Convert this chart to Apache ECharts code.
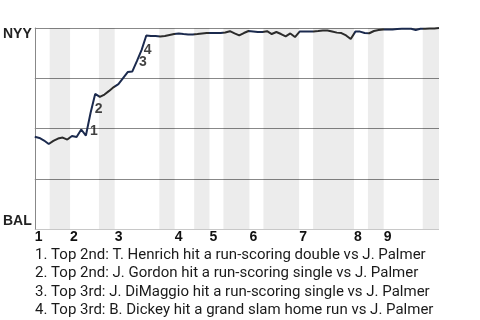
<!DOCTYPE html>
<html>
<head>
<meta charset="utf-8">
<script src="https://cdn.jsdelivr.net/npm/echarts@6/dist/echarts.min.js"></script>
<style>html,body{margin:0;padding:0;background:#fff}#c{width:480px;height:320px}</style>
</head>
<body>
<div id="c"></div>
<script>
// Win probability for NYY (0 = BAL wins, 1 = NYY wins), one value per plate appearance index
const winProb = [
  0.459, 0.453, 0.440, 0.423, 0.438, 0.450, 0.455, 0.445, 0.463, 0.458,
  0.495, 0.465, 0.577, 0.672, 0.657, 0.669, 0.687, 0.706, 0.721, 0.751,
  0.781, 0.784, 0.836, 0.891, 0.963, 0.960, 0.960, 0.958, 0.960, 0.965,
  0.970, 0.973, 0.970, 0.968, 0.968, 0.970, 0.973, 0.975, 0.975, 0.975,
  0.975, 0.978, 0.984, 0.973, 0.963, 0.975, 0.985, 0.983, 0.980, 0.980,
  0.984, 0.970, 0.980, 0.970, 0.958, 0.973, 0.955, 0.982, 0.982, 0.982,
  0.983, 0.985, 0.988, 0.988, 0.983, 0.977, 0.975, 0.963, 0.945, 0.982,
  0.982, 0.975, 0.974, 0.985, 0.990, 0.993, 0.993, 0.993, 0.995, 0.996,
  0.996, 0.996, 0.990, 0.996, 0.996, 0.997, 0.998, 1.000
];
// bottom halves of innings (BAL batting), in plate-appearance units
const bottomHalves = [
  [3.2, 7.6], [13.8, 17.2], [26.8, 30.1], [34.3, 37.6], [40.6, 46.2],
  [49.2, 56.9], [59.9, 68.7], [71.7, 75.1], [83.5, 87]
];
const inningStarts = [0, 7.6, 17.2, 30.1, 37.6, 46.2, 56.9, 68.7, 75.1];
const inningLabels = ['1', '2', '3', '4', '5', '6', '7', '8', '9'];
const teamTop = 'NYY';
const teamBottom = 'BAL';
const eventIndex = [11, 12, 22, 23];
const eventLabels = ['1', '2', '3', '4'];
const eventNotes = [
  '1. Top 2nd: T. Henrich hit a run-scoring double vs J. Palmer',
  '2. Top 2nd: J. Gordon hit a run-scoring single vs J. Palmer',
  '3. Top 3rd: J. DiMaggio hit a run-scoring single vs J. Palmer',
  '4. Top 3rd: B. Dickey hit a grand slam home run vs J. Palmer'
];

const NAVY = '#1b2a4e';
const DARK = '#2b2b2b';
const labelOffsets = [[8, -4], [8, -4], [6, 1], [6, 0]];

const lineData = winProb.map((v, i) => [i, v]);
const chart = echarts.init(document.getElementById('c'), null, {renderer: 'canvas'});
chart.setOption({
  animation: false,
  backgroundColor: '#fff',
  title: {
    text: eventNotes.join('\n'),
    left: 35, top: 246, padding: 0,
    textStyle: {fontFamily: 'Roboto', fontSize: 15, fontWeight: 'normal', color: '#1a1a1a', lineHeight: 18.3}
  },
  grid: {left: 33, right: 41, top: 28, bottom: 91},
  xAxis: {
    type: 'value', min: 0, max: winProb.length - 1, interval: 0.1,
    axisLine: {show: false}, axisTick: {show: false}, splitLine: {show: false},
    axisLabel: {
      show: true, margin: 1, align: 'left', showMinLabel: true, showMaxLabel: false,
      fontFamily: 'Liberation Sans', fontWeight: 'bold', fontSize: 14, color: '#111',
      formatter: function (v) {
        for (let i = 0; i < inningStarts.length; i++) {
          if (Math.abs(v - inningStarts[i]) < 0.05) return inningLabels[i];
        }
        return '';
      }
    }
  },
  yAxis: {
    type: 'value', min: 0, max: 1, interval: 0.25,
    axisLine: {show: true, lineStyle: {color: '#888'}},
    axisTick: {show: false},
    splitLine: {show: true, lineStyle: {color: ['#c8c8c8', '#888', '#888', '#888', '#888'], width: 1}},
    axisLabel: {
      margin: 3,
      formatter: function (v) { return v === 1 ? '{t|' + teamTop + '}' : (v === 0 ? '{b|' + teamBottom + '}' : ''); },
      rich: {
        t: {fontFamily: 'Liberation Sans', fontWeight: 'bold', fontSize: 14, color: '#222', padding: [12, 0, 0, 0]},
        b: {fontFamily: 'Liberation Sans', fontWeight: 'bold', fontSize: 14, color: '#222', padding: [0, 0, 16, 0]}
      }
    }
  },
  visualMap: {
    show: false, seriesIndex: 1, dimension: 0,
    pieces: bottomHalves.map(b => ({gte: b[0], lt: b[1], color: DARK})),
    outOfRange: {color: NAVY}
  },
  series: [
    {
      type: 'line', data: [], z: 1, silent: true,
      markArea: {
        silent: true,
        itemStyle: {color: 'rgba(0,0,0,0.075)'},
        data: bottomHalves.map(b => [{xAxis: b[0]}, {xAxis: b[1]}])
      }
    },
    {
      type: 'line', data: lineData, z: 3, showSymbol: false, symbol: 'none',
      lineStyle: {width: 2}
    },
    {
      type: 'scatter', z: 4, symbolSize: 0,
      data: eventIndex.map((k, i) => ({
        value: [k, winProb[k]],
        label: {
          show: true, formatter: eventLabels[i], position: 'inside', offset: labelOffsets[i],
          fontFamily: 'Liberation Sans', fontWeight: 'bold', fontSize: 14, color: '#111'
        }
      }))
    }
  ]
});
</script>
</body>
</html>
